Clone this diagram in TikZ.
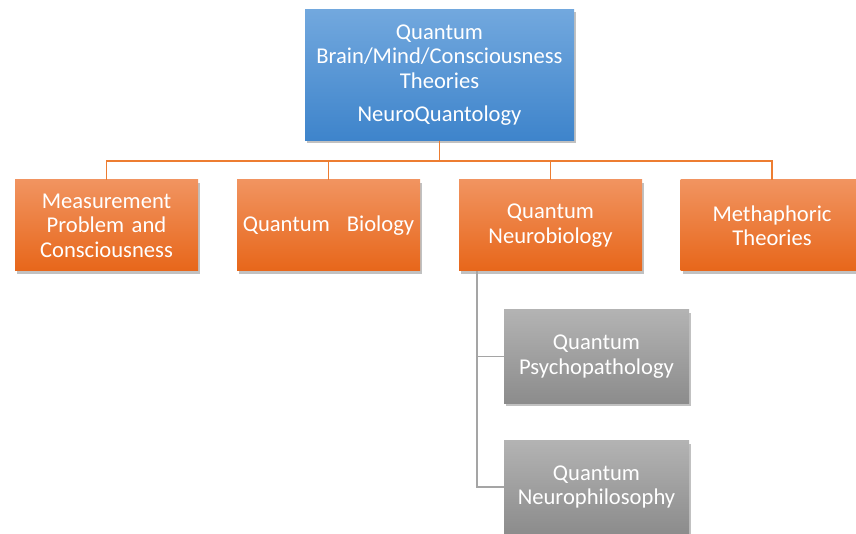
\documentclass[tikz,border=0pt]{standalone}
\usepackage{fontspec}
\setmainfont{Carlito}
\usetikzlibrary{shadows}

\definecolor{blueTop}{HTML}{72A8DE}
\definecolor{blueBot}{HTML}{3E84CB}
\definecolor{orangeTop}{HTML}{F19460}
\definecolor{orangeBot}{HTML}{E7661A}
\definecolor{grayTop}{HTML}{B3B3B3}
\definecolor{grayBot}{HTML}{8C8C8C}
\definecolor{orangeLine}{HTML}{ED7D31}
\definecolor{grayLine}{HTML}{A5A5A5}

\begin{document}
\begin{tikzpicture}[x=1pt,y=-1pt,
  box/.style={minimum width=183pt, minimum height=91pt, text width=175pt,
    align=center, text=white, inner sep=0pt,
    font=\fontsize{22.6}{24.5}\selectfont,
    drop shadow={shadow xshift=2pt, shadow yshift=-3pt, opacity=0.35, fill=black!70}},
  rootbox/.style={box, minimum width=269pt, minimum height=131pt, text width=260pt,
    top color=blueTop, bottom color=blueBot},
  orangebox/.style={box, top color=orangeTop, bottom color=orangeBot},
  graybox/.style={box, minimum width=185pt, minimum height=93pt,
    top color=grayTop, bottom color=grayBot},
  orangelink/.style={draw=orangeLine, line width=1.8pt},
  graylink/.style={draw=grayLine, line width=1.8pt}]
\useasboundingbox (0,0) rectangle (856,534);

% root
\node[rootbox] (qbm) at (439.5,75) {Quantum\\Brain/Mind/Consciousness\\Theories\\[9pt]NeuroQuantology};

% first level
\node[orangebox] (meas) at (106.5,225.5) {Measurement\\Problem and\\Consciousness};
\node[orangebox] (qbio) at (328.5,225.5) {Quantum\hspace{0.75em}Biology};
\node[orangebox] (qneuro) at (550.5,225.5) {Quantum\\Neurobiology};
\node[orangebox] (meta) at (772,225.5) {Methaphoric\\Theories};

% second level
\node[graybox] (qpsy) at (596.5,356.5) {Quantum\\Psychopathology};
\node[graybox] (qphil) at (596.5,487) {Quantum\\Neurophilosophy};

% connectors
\foreach \Child in {meas,qbio,qneuro,meta}
  \draw[orangelink] (qbm.south) -- ++(0,20) -| (\Child.north);
\coordinate (trunk) at (477,271);
\draw[graylink] (trunk) |- (qpsy.west);
\draw[graylink] (trunk) |- (qphil.west);
\end{tikzpicture}
\end{document}
